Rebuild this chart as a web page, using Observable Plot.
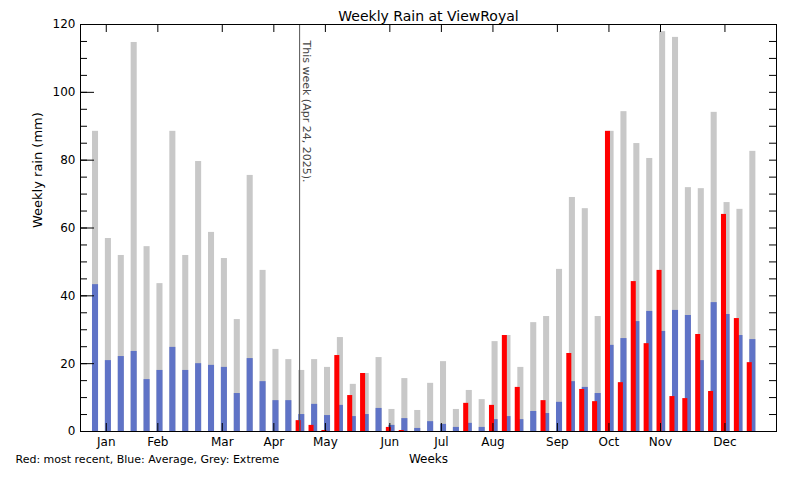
<!DOCTYPE html>
<html>
<head>
<meta charset="utf-8">
<script src="https://cdn.jsdelivr.net/npm/d3@7"></script>
<script src="https://cdn.jsdelivr.net/npm/@observablehq/plot@0.6"></script>
<style>
  html, body { margin: 0; padding: 0; background: #fff; }
</style>
</head>
<body>
<div id="chart"></div>
<script>
const weeks = d3.range(1, 53);
const extreme = [88.5,56.9,51.9,114.7,54.5,43.6,88.5,51.9,79.6,58.7,51.0,33.0,75.5,47.5,24.2,21.2,18.0,21.2,18.9,27.7,13.9,17.1,21.8,6.5,15.6,6.2,14.2,20.6,6.5,12.1,9.4,26.5,28.3,18.9,32.1,33.9,47.8,69.0,65.7,33.9,88.5,94.3,84.9,80.5,117.9,116.2,71.9,71.6,94.1,67.5,65.5,82.6];
const average = [43.3,20.9,22.1,23.6,15.3,18.0,24.8,18.0,20.0,19.5,18.9,11.2,21.5,14.7,9.1,9.1,5.0,8.0,4.7,7.7,4.4,5.0,6.8,1.8,3.8,0.9,2.9,2.1,1.2,2.4,1.2,3.5,4.4,3.5,5.9,5.3,8.6,14.7,13.0,11.2,25.4,27.4,32.4,35.4,29.5,35.7,34.2,20.9,38.0,34.5,28.3,27.1];
const recent = [null,null,null,null,null,null,null,null,null,null,null,null,null,null,null,null,3.2,1.8,0.3,22.4,10.6,17.1,null,1.2,0.3,null,null,null,null,8.3,null,7.7,28.3,13.0,null,9.1,null,23.0,12.4,8.8,88.5,14.4,44.2,25.9,47.5,10.3,9.7,28.6,11.8,64.0,33.3,20.3];
const monthNames = ["Jan","Feb","Mar","Apr","May","Jun","Jul","Aug","Sep","Oct","Nov","Dec"];
const monthWeeks = [2,6,11,15,19,24,28,32,37,41,45,50];
const yLabels = [0,20,40,60,80,100,120];
const yMinor = d3.range(0, 121, 5);
const thisWeek = 17;
const thisWeekLabel = "This week (Apr 24, 2025).";
const titleText = "Weekly Rain at ViewRoyal";
const yTitle = "Weekly rain (mm)";
const xTitle = "Weeks";
const legendText = "Red: most recent, Blue: Average, Grey: Extreme";

const rows = weeks.map((w, i) => ({week: w, extreme: extreme[i], average: average[i], recent: recent[i]}));
const months = monthNames.map((m, i) => ({name: m, week: monthWeeks[i]}));
const redRows = rows.filter(d => d.recent != null);

const W = 800, H = 480, mL = 80, mR = 24, mT = 24, mB = 49;
const innerW = W - mL - mR, innerH = H - mT - mB;

const chart = Plot.plot({
  width: W, height: H,
  marginLeft: mL, marginRight: mR, marginTop: mT, marginBottom: mB,
  style: {fontFamily: "DejaVu Sans, sans-serif", fontSize: "12px", background: "#fff", color: "#000"},
  x: {domain: [0, 54], axis: null},
  y: {domain: [0, 120], axis: null},
  marks: [
    Plot.rectY(rows, {x1: d => d.week - 0.07, x2: d => d.week + 0.4, y1: 0, y2: "extreme", fill: "#c8c8c8"}),
    Plot.rectY(rows, {x1: d => d.week - 0.07, x2: d => d.week + 0.4, y1: 0, y2: "average", fill: "#5f73c6"}),
    Plot.rectY(redRows, {x1: d => d.week - 0.27, x2: d => d.week + 0.12, y1: 0, y2: "recent", fill: "#ff0000"}),
    Plot.ruleX([thisWeek], {x: d => d, stroke: "#555", strokeWidth: 1}),
    Plot.text([thisWeekLabel], {x: () => thisWeek, frameAnchor: "top", rotate: 90, textAnchor: "start", dx: 11, dy: 16, fontSize: 11, fill: "#444"}),
    Plot.frame({stroke: "#000", strokeWidth: 1}),
    // month ticks top & bottom
    Plot.tickX(monthWeeks, {x: d => d, insetBottom: innerH - 8, stroke: "#000"}),
    Plot.tickX(monthWeeks, {x: d => d, insetTop: innerH - 8, stroke: "#000"}),
    // y ticks left major/minor, right minor
    Plot.tickY(yLabels, {y: d => d, insetRight: innerW - 14, stroke: "#000"}),
    Plot.tickY(yMinor, {y: d => d, insetRight: innerW - 7, stroke: "#000"}),
    Plot.tickY(yMinor, {y: d => d, insetLeft: innerW - 7, stroke: "#000"}),
    // y tick labels
    Plot.text(yLabels, {y: d => d, text: d => String(d), frameAnchor: "left", textAnchor: "end", dx: -5, fontSize: 12}),
    // month labels
    Plot.text(months, {x: "week", text: "name", frameAnchor: "bottom", dy: 14, fontSize: 12}),
    // titles
    Plot.text([titleText], {frameAnchor: "top", dy: -13, fontSize: 14}),
    Plot.text([yTitle], {frameAnchor: "left", dx: -43, rotate: -90, fontSize: 13}),
    Plot.text([xTitle], {frameAnchor: "bottom", dy: 31, fontSize: 12}),
    Plot.text([legendText], {frameAnchor: "bottom-left", dx: -65, dy: 31, textAnchor: "start", fontSize: 11})
  ]
});
document.getElementById("chart").append(chart);
</script>
</body>
</html>
